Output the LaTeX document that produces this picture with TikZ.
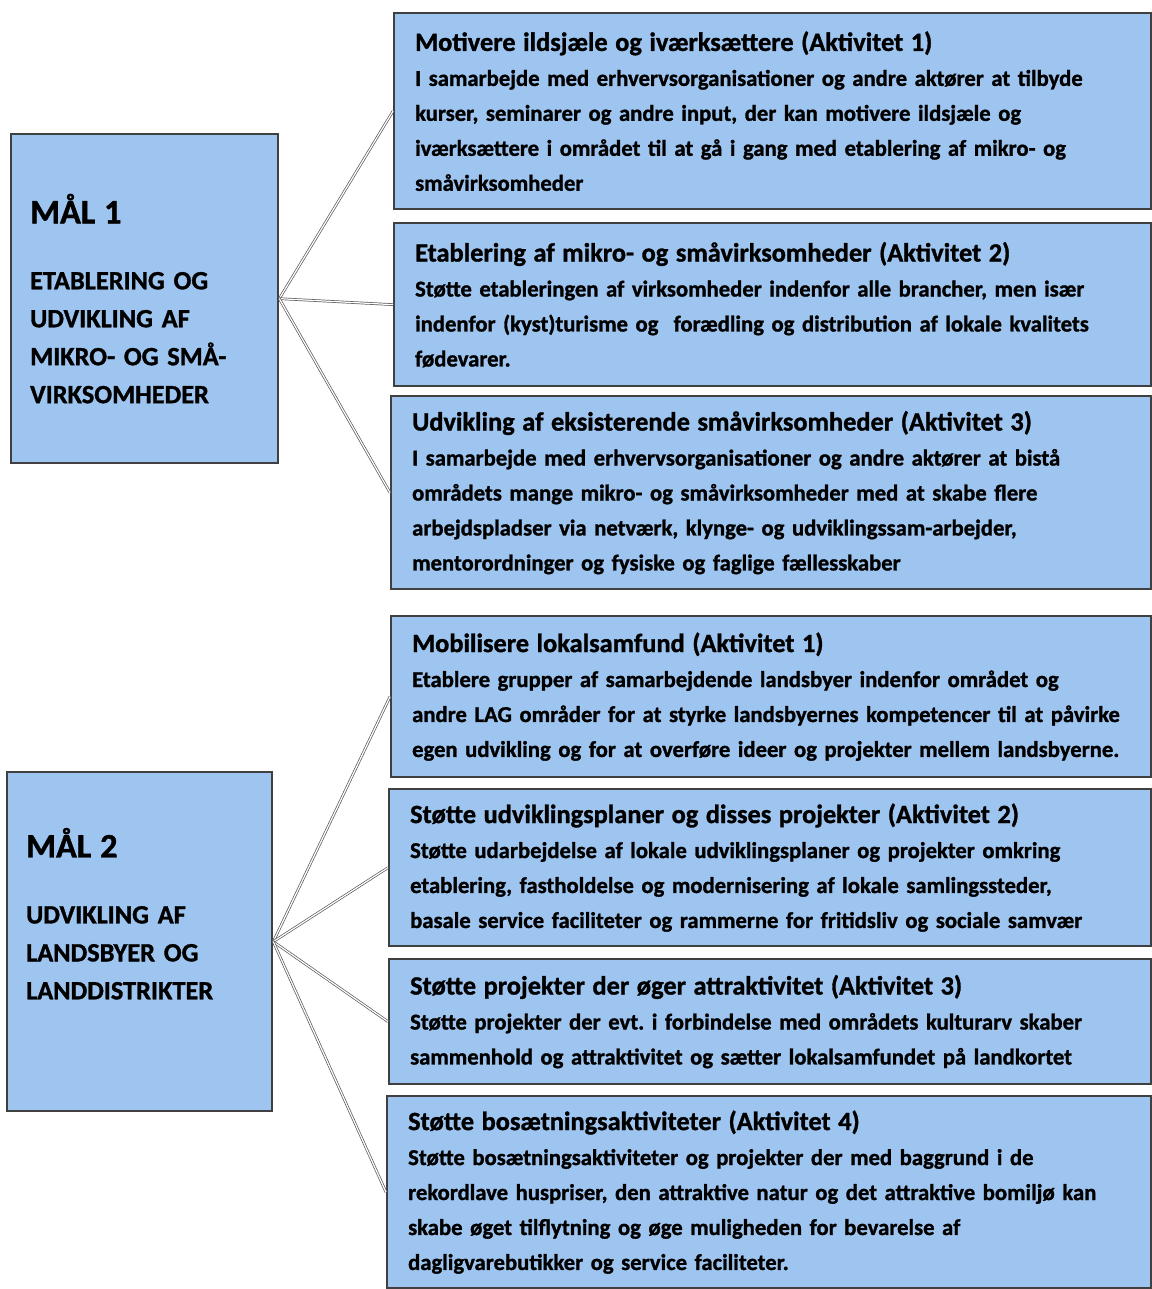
\documentclass[tikz,border=0pt]{standalone}
\usepackage{fontspec}
\setmainfont{Carlito}[BoldFeatures={FakeBold=1.2}]
\definecolor{boxblue}{RGB}{158,197,240}
\tikzset{
  akt/.style={anchor=north west, fill=boxblue, draw=black!75, line width=1.3pt,
    inner xsep=0.42cm, text width=14.3cm, align=left,
    font=\bfseries\fontsize{12.9}{19.9}\selectfont},
  maal/.style={anchor=north west, fill=boxblue, draw=black!75, line width=1.3pt,
    inner xsep=0.38cm, align=left,
    font=\bfseries\fontsize{15}{21.6}\selectfont},
  link/.style={draw=black!65, line width=0.4pt, double=white, double distance=0.7pt}
}
\newcommand{\akttitel}[1]{{\bfseries\fontsize{15}{19.9}\selectfont #1}}
\newcommand{\maaltitel}[1]{{\bfseries\fontsize{19.5}{21.6}\selectfont #1}}
\begin{document}
\begin{tikzpicture}
  \useasboundingbox (0,0) rectangle (23.04,-25.78);

  % maal 1 og aktiviteter
  \node[maal, minimum width=5.34cm, minimum height=6.58cm, text width=4.58cm] (mal1) at (0.2,-2.66)
    {\maaltitel{MÅL 1}\\[0.56cm]
     ETABLERING OG\\ UDVIKLING AF\\ MIKRO- OG SMÅ-\\ VIRKSOMHEDER};
  \node[akt, minimum height=3.92cm] (a1) at (7.86,-0.24)
    {\akttitel{Motivere ildsjæle og iværksættere (Aktivitet 1)}\\
     I samarbejde med erhvervsorganisationer og andre aktører at tilbyde\\
     kurser, seminarer og andre input, der kan motivere ildsjæle og\\
     iværksættere i området til at gå i gang med etablering af mikro- og\\
     småvirksomheder};
  \node[akt, minimum height=3.26cm] (a2) at (7.86,-4.44)
    {\akttitel{Etablering af mikro- og småvirksomheder (Aktivitet 2)}\\
     Støtte etableringen af virksomheder indenfor alle brancher, men især\\
     indenfor (kyst)turisme og~ forædling og distribution af lokale kvalitets\\
     fødevarer.};
  \node[akt, minimum height=3.86cm, text width=14.36cm] (a3) at (7.80,-7.90)
    {\akttitel{Udvikling af eksisterende småvirksomheder (Aktivitet 3)}\\
     I samarbejde med erhvervsorganisationer og andre aktører at bistå\\
     områdets mange mikro- og småvirksomheder med at skabe flere\\
     arbejdspladser via netværk, klynge- og udviklingssam-arbejder,\\
     mentorordninger og fysiske og faglige fællesskaber};

  \draw[link] (mal1.east) -- (a1.west);
  \draw[link] (mal1.east) -- (a2.west);
  \draw[link] (mal1.east) -- (a3.west);

  % maal 2 og aktiviteter
  \node[maal, minimum width=5.30cm, minimum height=6.78cm, text width=4.54cm] (mal2) at (0.12,-15.42)
    {\maaltitel{MÅL 2}\\[0.56cm]
     UDVIKLING AF\\ LANDSBYER OG\\ LANDDISTRIKTER\\[0.36cm]~};
  \node[akt, minimum height=3.22cm, text width=14.36cm] (b1) at (7.80,-12.30)
    {\akttitel{Mobilisere lokalsamfund (Aktivitet 1)}\\
     Etablere grupper af samarbejdende landsbyer indenfor området og\\
     andre LAG områder for at styrke landsbyernes kompetencer til at påvirke\\
     egen udvikling og for at overføre ideer og projekter mellem landsbyerne.};
  \node[akt, minimum height=3.14cm, text width=14.4cm] (b2) at (7.76,-15.76)
    {\akttitel{Støtte udviklingsplaner og disses projekter (Aktivitet 2)}\\
     Støtte udarbejdelse af lokale udviklingsplaner og projekter omkring\\
     etablering, fastholdelse og modernisering af lokale samlingssteder,\\
     basale service faciliteter og rammerne for fritidsliv og sociale samvær};
  \node[akt, minimum height=2.50cm, text width=14.4cm] (b3) at (7.76,-19.16)
    {\akttitel{Støtte projekter der øger attraktivitet (Aktivitet 3)}\\
     Støtte projekter der evt.\ i forbindelse med områdets kulturarv skaber\\
     sammenhold og attraktivitet og sætter lokalsamfundet på landkortet};
  \node[akt, minimum height=3.84cm, text width=14.44cm] (b4) at (7.72,-21.90)
    {\akttitel{Støtte bosætningsaktiviteter (Aktivitet 4)}\\
     Støtte bosætningsaktiviteter og projekter der med baggrund i de\\
     rekordlave huspriser, den attraktive natur og det attraktive bomiljø kan\\
     skabe øget tilflytning og øge muligheden for bevarelse af\\
     dagligvarebutikker og service faciliteter.};

  \draw[link] (mal2.east) -- (b1.west);
  \draw[link] (mal2.east) -- (b2.west);
  \draw[link] (mal2.east) -- (b3.west);
  \draw[link] (mal2.east) -- (b4.west);
\end{tikzpicture}
\end{document}
